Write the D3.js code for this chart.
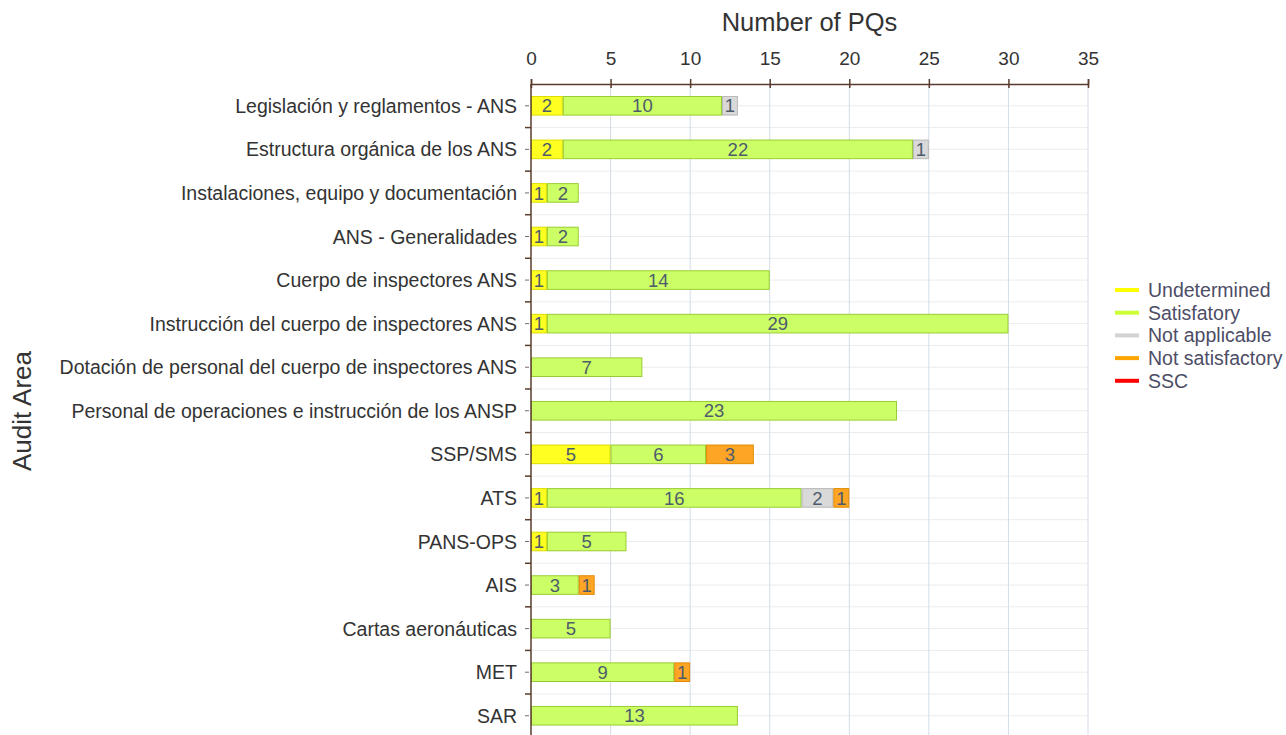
<!DOCTYPE html>
<html>
<head>
<meta charset="utf-8">
<script src="https://cdn.jsdelivr.net/npm/d3@7"></script>
<style>
    body { margin: 0; background: #fff; }
    svg { font-family: "Liberation Sans", Arial, sans-serif; }
</style>
</head>
<body>
<div id="chart"></div>
<script>
// Audit areas, top to bottom
const areas = [
    'Legislación y reglamentos - ANS',
    'Estructura orgánica de los ANS',
    'Instalaciones, equipo y documentación',
    'ANS - Generalidades',
    'Cuerpo de inspectores ANS',
    'Instrucción del cuerpo de inspectores ANS',
    'Dotación de personal del cuerpo de inspectores ANS',
    'Personal de operaciones e instrucción de los ANSP',
    'SSP/SMS',
    'ATS',
    'PANS-OPS',
    'AIS',
    'Cartas aeronáuticas',
    'MET',
    'SAR'
];

const statuses = ['Undetermined', 'Satisfatory', 'Not applicable', 'Not satisfactory', 'SSC'];

// values per status, same order as areas
const undetermined    = [2, 2, 1, 1, 1, 1, 0, 0, 5, 1, 1, 0, 0, 0, 0];
const satisfactory    = [10, 22, 2, 2, 14, 29, 7, 23, 6, 16, 5, 3, 5, 9, 13];
const notApplicable   = [1, 1, 0, 0, 0, 0, 0, 0, 0, 2, 0, 0, 0, 0, 0];
const notSatisfactory = [0, 0, 0, 0, 0, 0, 0, 0, 3, 1, 0, 1, 0, 1, 0];
const ssc             = [0, 0, 0, 0, 0, 0, 0, 0, 0, 0, 0, 0, 0, 0, 0];

const xTicks = [0, 5, 10, 15, 20, 25, 30, 35];

const fills   = ['#ffff22', '#ccff66', '#d9d9d9', '#ffa526', '#ff0000'];
const strokes = ['#dddd00', '#99cc33', '#b8b8b8', '#e08a00', '#cc0000'];
const legendColors = ['#ffff00', '#ccff33', '#d3d3d3', '#ffa500', '#ff0000'];

const rows = areas.map((a, i) => ({
    area: a,
    Undetermined: undetermined[i],
    Satisfatory: satisfactory[i],
    'Not applicable': notApplicable[i],
    'Not satisfactory': notSatisfactory[i],
    SSC: ssc[i]
}));

const W = 1286, H = 735;
const margin = { top: 84, left: 531 };
const plotW = 557;
const step = 43.57;

const svg = d3.select('#chart').append('svg')
    .attr('width', W)
    .attr('height', H);

const x = d3.scaleLinear().domain([0, 35]).range([margin.left, margin.left + plotW]);
const y = d3.scaleBand().domain(areas)
    .range([margin.top, margin.top + step * areas.length])
    .paddingInner(0.55).paddingOuter(0.275);

const bandTop = d => y(d) - y.step() * y.paddingInner() / 2;

// horizontal grid: band boundaries and band centres
const gridH = svg.append('g');
areas.forEach(a => {
    const c = y(a) + y.bandwidth() / 2;
    [bandTop(a) + y.step(), c].forEach(v => {
        gridH.append('line')
            .attr('x1', margin.left).attr('x2', margin.left + plotW)
            .attr('y1', v).attr('y2', v)
            .attr('stroke', '#ececec').attr('stroke-width', 1);
    });
});

// vertical grid
svg.append('g').selectAll('line')
    .data(xTicks.slice(1))
    .join('line')
    .attr('x1', d => x(d)).attr('x2', d => x(d))
    .attr('y1', margin.top).attr('y2', H)
    .attr('stroke', '#d3dce8').attr('stroke-width', 1);

// stacked bars
const stack = d3.stack().keys(statuses)(rows);
const barG = svg.append('g');
stack.forEach((layer, k) => {
    layer.forEach((seg, i) => {
        const v = seg[1] - seg[0];
        if (v <= 0) return;
        const yy = y(areas[i]);
        barG.append('rect')
            .attr('x', x(seg[0]) + 0.5)
            .attr('y', yy + 0.5)
            .attr('width', x(seg[1]) - x(seg[0]) - 1)
            .attr('height', y.bandwidth() - 1)
            .attr('fill', fills[k])
            .attr('stroke', strokes[k])
            .attr('stroke-width', 1);
        barG.append('text')
            .attr('x', (x(seg[0]) + x(seg[1])) / 2)
            .attr('y', yy + y.bandwidth() / 2)
            .attr('dy', '0.36em')
            .attr('text-anchor', 'middle')
            .attr('fill', '#4d5b6b')
            .style('font-size', '18.5px')
            .text(v);
    });
});

// y axis
const yAxis = svg.append('g');
yAxis.append('line')
    .attr('x1', margin.left).attr('x2', margin.left)
    .attr('y1', margin.top).attr('y2', H)
    .attr('stroke', '#5a3b2e').attr('stroke-width', 1.5);
areas.forEach(a => {
    const b = bandTop(a) + y.step();
    yAxis.append('line')
        .attr('x1', margin.left - 6).attr('x2', margin.left)
        .attr('y1', b).attr('y2', b)
        .attr('stroke', '#5a3b2e').attr('stroke-width', 1.5);
    const c = y(a) + y.bandwidth() / 2;
    yAxis.append('line')
        .attr('x1', margin.left - 6).attr('x2', margin.left - 2)
        .attr('y1', c).attr('y2', c)
        .attr('stroke', '#7a6a60').attr('stroke-width', 1);
    yAxis.append('text')
        .attr('x', margin.left - 14)
        .attr('y', c)
        .attr('dy', '0.36em')
        .attr('text-anchor', 'end')
        .attr('fill', '#333')
        .style('font-size', '19.5px')
        .text(a);
});

// top x axis
const xAxis = svg.append('g')
    .attr('transform', `translate(0,${margin.top})`)
    .call(d3.axisTop(x).tickValues(xTicks).tickSize(5).tickPadding(14));
xAxis.select('.domain').attr('stroke', '#5a3b2e').attr('stroke-width', 1.5);
xAxis.selectAll('.tick line').attr('stroke', '#5a3b2e').attr('stroke-width', 1.5).attr('y2', -5).attr('y1', 4);
xAxis.selectAll('.tick text')
    .attr('fill', '#333')
    .style('font-size', '19px')
    .style('font-family', '"Liberation Sans", Arial, sans-serif');

// titles
svg.append('text')
    .attr('x', x(17.5))
    .attr('y', 31)
    .attr('text-anchor', 'middle')
    .attr('fill', '#333')
    .style('font-size', '25.5px')
    .text('Number of PQs');

svg.append('text')
    .attr('transform', `translate(31,411) rotate(-90)`)
    .attr('text-anchor', 'middle')
    .attr('fill', '#333')
    .style('font-size', '26px')
    .text('Audit Area');

// legend
const legend = svg.append('g').attr('transform', 'translate(1115,290)');
statuses.forEach((s, i) => {
    const g = legend.append('g').attr('transform', `translate(0,${i * 22.7})`);
    g.append('line')
        .attr('x1', 0).attr('x2', 24)
        .attr('y1', 0).attr('y2', 0)
        .attr('stroke', legendColors[i])
        .attr('stroke-width', 4);
    g.append('text')
        .attr('x', 33)
        .attr('y', 0)
        .attr('dy', '0.36em')
        .attr('fill', '#4d4d66')
        .style('font-size', '19.5px')
        .text(s);
});
</script>
</body>
</html>
